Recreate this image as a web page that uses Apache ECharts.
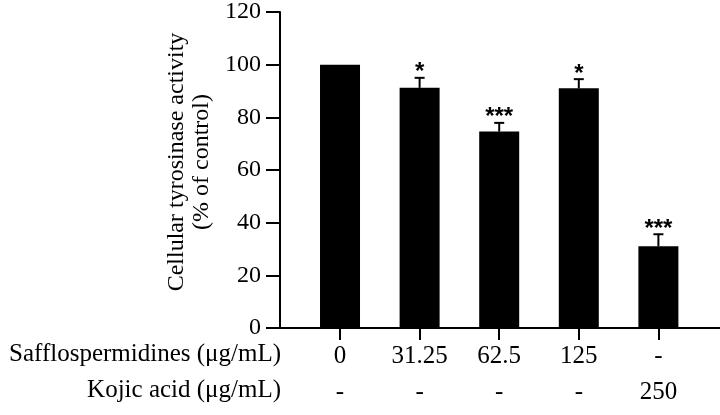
<!DOCTYPE html>
<html>
<head>
<meta charset="utf-8">
<script src="https://cdn.jsdelivr.net/npm/echarts@6/dist/echarts.min.js"></script>
<style>
  html, body { margin: 0; padding: 0; background: #fff; }
  #main { width: 720px; height: 415px; }
</style>
</head>
<body>
<div id="main"></div>
<script>
// data
var doses = ['0', '31.25', '62.5', '125', '-'];      // Safflospermidines (ug/mL)
var kojic = ['-', '-', '-', '-', '250'];             // Kojic acid (ug/mL)
var activity = [100, 91.2, 74.6, 91.0, 31.0];        // % of control
var sem = [0, 3.8, 3.3, 3.5, 4.6];
var marks = ['', '*', '***', '*', '***'];
var yTicks = [0, 20, 40, 60, 80, 100, 120];

var serif = 'Liberation Serif';
var myChart = echarts.init(document.getElementById('main'));

var positions = doses.map(function (d, i) { return i; });
var barData = activity.map(function (v, i) { return [positions[i], v]; });
var errData = activity.map(function (v, i) { return [positions[i], v, sem[i]]; });

function renderErr(params, api) {
    var x = api.value(0), v = api.value(1), e = api.value(2);
    var base = api.coord([x, v]);
    var top = api.coord([x, v + e]);
    var children = [];
    var st = { stroke: '#000', lineWidth: 2 };
    if (e > 0) {
        children.push({ type: 'line', shape: { x1: base[0], y1: base[1], x2: top[0], y2: top[1] }, style: st });
        children.push({ type: 'line', shape: { x1: top[0] - 5, y1: top[1], x2: top[0] + 5, y2: top[1] }, style: st });
    }
    var m = marks[params.dataIndex];
    if (m) {
        children.push({
            type: 'text',
            style: {
                x: top[0], y: top[1] + 7, text: m,
                align: 'center', verticalAlign: 'bottom',
                font: 'bold 24px "Liberation Sans"', fill: '#000'
            }
        });
    }
    return { type: 'group', children: children };
}

var option = {
    animation: false,
    backgroundColor: '#fff',
    grid: { left: 280, right: 0, top: 11, bottom: 87 },
    xAxis: {
        type: 'value',
        min: -0.754,
        max: 4.774,
        splitLine: { show: false },
        axisLine: { onZero: false, lineStyle: { color: '#000', width: 2 } },
        axisTick: { customValues: positions, length: 12, lineStyle: { color: '#000', width: 2 } },
        axisLabel: {
            customValues: positions,
            formatter: function (v) { return doses[v] + '\n' + kojic[v]; },
            fontFamily: serif, fontSize: 25, color: '#000',
            lineHeight: 36, margin: 10
        }
    },
    yAxis: {
        type: 'value',
        min: yTicks[0],
        max: yTicks[yTicks.length - 1],
        interval: 20,
        splitLine: { show: false },
        axisLine: { show: true, onZero: false, lineStyle: { color: '#000', width: 2 } },
        axisTick: { show: true, length: 14, lineStyle: { color: '#000', width: 2 } },
        axisLabel: { fontFamily: serif, fontSize: 24, color: '#000', margin: 19 },
        name: 'Cellular tyrosinase activity\n(% of control)',
        nameLocation: 'middle',
        nameRotate: 90,
        nameGap: 64,
        nameTextStyle: { fontFamily: serif, fontSize: 24, color: '#000', lineHeight: 25, padding: [0, 0, 0, 16] }
    },
    graphic: [
        { type: 'text', right: 720 - 281, top: 342,
          style: { text: 'Safflospermidines (μg/mL)', font: '25px "Liberation Serif"', fill: '#000' } },
        { type: 'text', right: 720 - 281, top: 378,
          style: { text: 'Kojic acid (μg/mL)', font: '25px "Liberation Serif"', fill: '#000' } }
    ],
    series: [
        {
            type: 'bar',
            data: barData,
            barWidth: 40,
            itemStyle: { color: '#000' }
        },
        {
            type: 'custom',
            data: errData,
            renderItem: renderErr,
            z: 3
        }
    ]
};

myChart.setOption(option);
</script>
</body>
</html>
